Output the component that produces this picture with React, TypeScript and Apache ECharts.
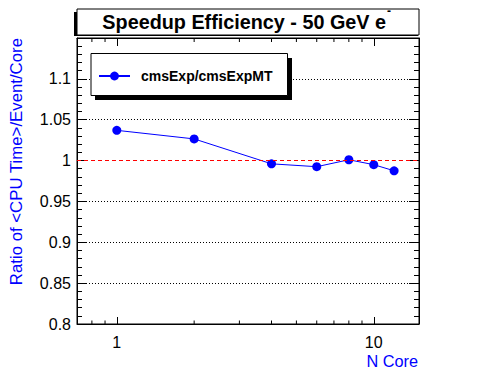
import React, { useEffect, useRef } from 'react';
import * as echarts from 'echarts';

// ---- data ----
const coreCounts = [1, 2, 4, 6, 8, 10, 12];
const speedupRatio = [1.037, 1.0265, 0.996, 0.9925, 1.001, 0.995, 0.9875];
const seriesName = 'cmsExp/cmsExpMT';
const titleText = 'Speedup Efficiency - 50 GeV e';
const titleSup = '-';
const xTitle = 'N Core';
const yTitle = 'Ratio of <CPU Time>/Event/Core';
const xMin = 0.7;
const xMax = 15;
const yMin = 0.8;
const yMax = 1.15;
const yStep = 0.05;
const yTickLabels = ['0.8', '0.85', '0.9', '0.95', '1', '1.05', '1.1'];
const xTickLabels = [1, 10];
const xMinorTicks = [0.8, 0.9, 2, 3, 4, 5, 6, 7, 8, 9];
const referenceLevel = 1;

const FONT = '"Liberation Sans", Arial, Helvetica, sans-serif';
const BLUE = '#0000ff';

function xLabel(v: number): string {
  const m = xTickLabels.find((t) => Math.abs(t - v) < 1e-6 * t);
  return m !== undefined ? String(m) : '';
}

export default function App() {
  const ref = useRef<HTMLDivElement | null>(null);

  useEffect(() => {
    if (!ref.current) return;
    const chart = echarts.init(ref.current, undefined, { renderer: 'svg' });

    const commonX = {
      type: 'log',
      logBase: 10,
      min: xMin,
      max: xMax,
      axisLine: { show: true, lineStyle: { color: '#000', width: 1 } },
      splitLine: { show: false },
      minorTick: { show: false },
    };
    const commonY = {
      type: 'value',
      min: yMin,
      max: yMax,
      interval: yStep,
      axisLine: { show: true, lineStyle: { color: '#000', width: 1 } },
      axisTick: { show: true, inside: true, length: 10, lineStyle: { color: '#000', width: 1 } },
      minorTick: { show: true, splitNumber: 5, length: 5, lineStyle: { color: '#000', width: 1 } },
    };

    const option: any = {
      animation: false,
      grid: {
        left: 77,
        right: 77,
        top: 38,
        bottom: 48,
        show: true,
        borderColor: '#000',
        borderWidth: 1,
        backgroundColor: 'transparent',
      },
      xAxis: [
        {
          ...commonX,
          position: 'bottom',
          axisTick: { show: true, inside: true, length: 7, lineStyle: { color: '#000', width: 1 } },
          axisLabel: {
            show: true,
            margin: 10,
            color: '#000',
            fontSize: 16,
            fontFamily: FONT,
            formatter: (v: number) => xLabel(v),
          },
        },
        {
          ...commonX,
          position: 'top',
          axisTick: { show: true, inside: true, length: 8, lineStyle: { color: '#000', width: 1 } },
          axisLabel: { show: false },
        },
      ],
      yAxis: [
        {
          ...commonY,
          position: 'left',
          axisLabel: {
            show: true,
            margin: 6,
            color: '#000',
            fontSize: 16,
            fontFamily: FONT,
            formatter: (_v: number, i: number) => (i < yTickLabels.length ? yTickLabels[i] : ''),
          },
          splitLine: {
            show: true,
            lineStyle: {
              color: ['#000', '#000', '#000', '#000', 'rgba(0,0,0,0)', '#000', '#000', '#000'],
              type: [1, 2],
              width: 1,
            },
          },
        },
        {
          ...commonY,
          position: 'right',
          axisLabel: { show: false },
          splitLine: { show: false },
        },
      ],
      legend: {
        data: [seriesName],
        left: 98,
        top: 69,
        padding: 0,
        itemWidth: 31,
        itemHeight: 11,
        z: 10,
        textStyle: {
          fontSize: 14,
          fontWeight: 'bold',
          color: '#000',
          fontFamily: FONT,
          padding: [0, 0, 0, 6],
        },
      },
      graphic: [
        { type: 'rect', z: 5, shape: { x: 74, y: 12, width: 344, height: 24 }, style: { fill: '#000' } },
        { type: 'rect', z: 6, shape: { x: 77, y: 9, width: 342, height: 26 }, style: { fill: '#fff', stroke: '#000', lineWidth: 1 } },
        {
          type: 'text', z: 7, x: 386, y: 22,
          style: { text: titleText, fill: '#000', font: `bold 19.8px ${FONT}`, align: 'right', verticalAlign: 'middle' },
        },
        {
          type: 'text', z: 7, x: 387, y: 11,
          style: { text: titleSup, fill: '#000', font: `bold 12px ${FONT}`, align: 'left', verticalAlign: 'middle' },
        },
        { type: 'rect', z: 5, shape: { x: 95, y: 58, width: 197, height: 42 }, style: { fill: '#000' } },
        { type: 'rect', z: 6, shape: { x: 91, y: 53.5, width: 196.5, height: 42 }, style: { fill: '#fff', stroke: '#000', lineWidth: 1 } },
        {
          type: 'text', z: 7, x: 16.5, y: 38, rotation: Math.PI / 2,
          style: { text: yTitle, fill: BLUE, font: `16.8px ${FONT}`, align: 'right', verticalAlign: 'middle' },
        },
        {
          type: 'text', z: 7, x: 418, y: 361,
          style: { text: xTitle, fill: BLUE, font: `16.3px ${FONT}`, align: 'right', verticalAlign: 'middle' },
        },
      ],
      series: [
        {
          name: seriesName,
          type: 'line',
          xAxisIndex: 0,
          yAxisIndex: 0,
          data: coreCounts.map((c, i) => [c, speedupRatio[i]]),
          symbol: 'circle',
          symbolSize: 9,
          itemStyle: { color: BLUE },
          lineStyle: { color: BLUE, width: 1 },
          z: 4,
          markLine: {
            silent: true,
            symbol: 'none',
            label: { show: false },
            lineStyle: { color: '#ff0000', type: [4, 3], width: 1 },
            data: [{ yAxis: referenceLevel }],
          },
        },
        {
          type: 'custom',
          xAxisIndex: 0,
          yAxisIndex: 0,
          silent: true,
          z: 3,
          data: xMinorTicks.map((v) => [v, yMin]),
          renderItem: (_params: any, api: any) => {
            const x = api.value(0);
            const pb = api.coord([x, yMin]);
            const pt = api.coord([x, yMax]);
            const st = { stroke: '#000', lineWidth: 1 };
            return {
              type: 'group',
              children: [
                { type: 'line', shape: { x1: pb[0], y1: pb[1], x2: pb[0], y2: pb[1] - 3.5 }, style: st },
                { type: 'line', shape: { x1: pt[0], y1: pt[1], x2: pt[0], y2: pt[1] + 4 }, style: st },
              ],
            };
          },
        },
      ],
    };

    chart.setOption(option);
    return () => {
      chart.dispose();
    };
  }, []);

  return (
    <div
      ref={ref}
      style={{ position: 'absolute', left: 0, top: 0, width: 496, height: 372, background: '#fff' }}
    />
  );
}
